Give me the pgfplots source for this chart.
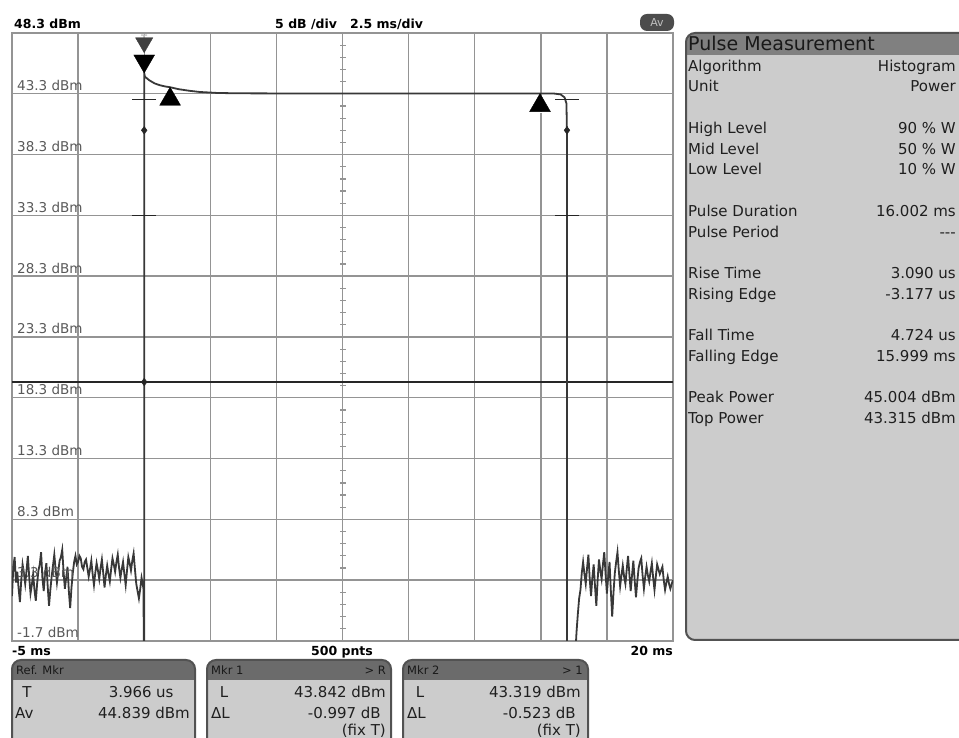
\documentclass[border=0pt]{standalone}
\usepackage{pgfplots}
\pgfplotsset{compat=1.18}
\usepackage{fontspec}
\setmainfont{DejaVu Sans}
\definecolor{gridc}{gray}{0.58}
\definecolor{trace}{gray}{0.22}
\definecolor{panel}{gray}{0.80}
\definecolor{hdr}{gray}{0.50}
\definecolor{bord}{gray}{0.32}
\newcommand\fA{\fontsize{15}{17}\selectfont}
\newcommand\fB{\fontsize{13.5}{15}\selectfont}
\newcommand\fC{\fontsize{12.5}{14}\selectfont}
\begin{document}
\begin{tikzpicture}[x=1pt,y=1pt]
\fill[white] (0,0) rectangle (959,738);
\begin{axis}[at={(12pt,97pt)}, anchor=south west, scale only axis,
  width=661pt, height=608pt,
  xmin=-5, xmax=20, ymin=-1.7, ymax=48.3,
  xtick={-5,-2.5,0,2.5,5,7.5,10,12.5,15,17.5,20},
  ytick={-1.7,3.3,8.3,13.3,18.3,23.3,28.3,33.3,38.3,43.3,48.3},
  xticklabels={}, yticklabels={}, major tick length=0pt,
  grid=major, grid style={gridc, line width=1.4pt},
  axis line style={gridc, line width=1.6pt}]
% centre graticule minor ticks
\addplot[only marks, mark=-, mark size=3pt, gridc, mark options={line width=1.2pt}] coordinates {
(7.5,-0.7)(7.5,0.3)(7.5,1.3)(7.5,2.3)(7.5,4.3)(7.5,5.3)(7.5,6.3)(7.5,7.3)
(7.5,9.3)(7.5,10.3)(7.5,11.3)(7.5,12.3)(7.5,14.3)(7.5,15.3)(7.5,16.3)(7.5,17.3)
(7.5,19.3)(7.5,20.3)(7.5,21.3)(7.5,22.3)(7.5,24.3)(7.5,25.3)(7.5,26.3)(7.5,27.3)
(7.5,29.3)(7.5,30.3)(7.5,31.3)(7.5,32.3)(7.5,34.3)(7.5,35.3)(7.5,36.3)(7.5,37.3)
(7.5,39.3)(7.5,40.3)(7.5,41.3)(7.5,42.3)(7.5,44.3)(7.5,45.3)(7.5,46.3)(7.5,47.3)};
% threshold line
\addplot[black!85, line width=1.6pt] coordinates {(-5,19.6) (20,19.6)};
% trace
\addplot[trace, line width=1.8pt] coordinates {
(-5.0,2.0)(-4.95,4.4)(-4.9,5.2)(-4.85,3.1)(-4.8,4.0)(-4.75,2.6)(-4.7,1.5)(-4.65,3.3)
(-4.6,4.6)(-4.55,3.9)(-4.5,3.0)(-4.45,4.1)(-4.4,5.3)(-4.35,3.6)(-4.3,2.2)(-4.25,2.9)
(-4.2,3.8)(-4.15,2.5)(-4.1,1.6)(-4.05,3.0)(-4.0,4.1)(-3.95,4.6)(-3.9,5.6)(-3.85,3.5)
(-3.8,2.4)(-3.75,3.9)(-3.7,4.7)(-3.65,2.8)(-3.6,1.2)(-3.55,2.5)(-3.5,3.6)(-3.45,4.5)
(-3.4,5.4)(-3.35,4.2)(-3.3,3.1)(-3.25,4.0)(-3.2,4.9)(-3.15,5.2)(-3.1,5.8)(-3.05,4.0)
(-3.0,2.6)(-2.95,3.5)(-2.9,4.4)(-2.85,2.4)(-2.8,1.0)(-2.75,2.7)(-2.7,3.9)(-2.65,4.8)
(-2.6,5.3)(-2.55,4.6)(-2.5,4.8)(-2.45,5.3)(-2.4,5.1)(-2.35,4.4)(-2.3,4.2)(-2.25,4.8)
(-2.2,5.0)(-2.15,4.3)(-2.1,3.6)(-2.05,4.2)(-2.0,4.9)(-1.95,3.8)(-1.9,2.9)(-1.85,3.9)
(-1.8,4.7)(-1.75,4.1)(-1.7,3.4)(-1.65,4.3)(-1.6,5.0)(-1.55,3.9)(-1.5,2.7)(-1.45,3.7)
(-1.4,4.5)(-1.35,3.8)(-1.3,3.2)(-1.25,4.2)(-1.2,5.1)(-1.15,4.6)(-1.1,4.0)(-1.05,4.8)
(-1.0,5.4)(-0.95,4.3)(-0.9,3.5)(-0.85,4.2)(-0.8,4.8)(-0.75,3.8)(-0.7,2.9)(-0.65,4.1)
(-0.6,5.2)(-0.55,4.7)(-0.5,4.1)(-0.45,4.9)(-0.4,5.5)(-0.35,4.2)(-0.3,3.0)(-0.25,2.4)
(-0.2,1.8)(-0.15,2.6)(-0.1,3.5)(-0.05,2.9)(-0.03,2.6)(0.0,-5)(0.0,45.0)
(0.03,44.7)(0.2,44.4)(0.4,44.15)(0.6,44.0)(0.8,43.9)(0.98,43.84)(1.3,43.68)
(1.7,43.55)(2.1,43.45)(2.75,43.37)(3.5,43.34)(5,43.33)(10,43.32)(15.5,43.32)
(15.75,43.25)(15.9,43.0)(15.97,42.5)(15.99,40)(15.99,-5)(16.2,-5)
(16.3,-3)(16.35,-1)(16.4,0.5)(16.45,1.8)(16.5,2.5)(16.55,3.9)(16.6,4.8)(16.65,3.8)
(16.7,3.0)(16.75,4.3)(16.8,5.4)(16.85,3.4)(16.9,2.0)(16.95,3.5)(17.0,4.6)(17.05,2.8)
(17.1,1.2)(17.15,3.3)(17.2,5.0)(17.25,4.1)(17.3,3.4)(17.35,4.6)(17.4,5.6)(17.45,3.8)
(17.5,2.2)(17.55,3.6)(17.6,4.8)(17.65,2.4)(17.7,0.3)(17.75,2.3)(17.8,3.9)(17.85,4.8)
(17.9,5.6)(17.95,4.1)(18.0,2.8)(18.05,3.7)(18.1,4.5)(18.15,3.6)(18.2,3.0)(18.25,4.2)
(18.3,5.3)(18.35,3.8)(18.4,2.4)(18.45,3.7)(18.5,4.9)(18.55,3.3)(18.6,1.9)(18.65,3.2)
(18.7,4.3)(18.75,4.8)(18.8,5.1)(18.85,3.7)(18.9,2.6)(18.95,3.6)(19.0,4.4)(19.05,3.7)
(19.1,3.2)(19.15,4.0)(19.2,4.7)(19.25,3.5)(19.3,2.5)(19.35,3.6)(19.4,4.6)(19.45,4.2)
(19.5,3.8)(19.55,4.1)(19.6,4.4)(19.65,3.3)(19.7,2.5)(19.75,3.1)(19.8,3.6)(19.85,3.0)
(19.9,2.6)(19.95,3.0)(20.0,3.3)};
% pulse level ticks and diamonds
\addplot[only marks, mark=-, mark size=12pt, black!85, mark options={line width=1.5pt}]
  coordinates {(0,42.85)(0,33.3)(15.99,42.85)(15.99,33.3)};
\addplot[only marks, mark=diamond*, mark size=3.8pt, black!85]
  coordinates {(0,40.3)(15.99,40.3)(0,19.6)};
% markers
\addplot[only marks, mark=triangle*, mark size=12pt, black, mark options={rotate=180}]
  coordinates {(0,46.0)};
\addplot[only marks, mark=triangle*, mark size=10pt, black!75, mark options={rotate=180}]
  coordinates {(0,47.5)};
\addplot[only marks, mark=triangle*, mark size=12pt, black]
  coordinates {(0.98,42.85)(14.97,42.33)};
\node[white, font=\fontsize{9}{10}\selectfont\bfseries] at (axis cs:0.98,42.5) {1};
\node[white, font=\fontsize{9}{10}\selectfont\bfseries] at (axis cs:14.97,41.98) {2};
\node[black!25, font=\fontsize{9}{10}\selectfont\bfseries] at (axis cs:0,47.85) {T};
\end{axis}
% level labels inside the plot
\foreach \k/\lab in {1/43.3,2/38.3,3/33.3,4/28.3,5/23.3,6/18.3,7/13.3,8/8.3,9/3.3,10/-1.7}{
  \node[anchor=base west, inner sep=0pt, text=black!65, font=\fB] at (17,{738-33-60.8*\k+3}) {\lab\ dBm};
}
% top labels
\node[anchor=base west, inner sep=0pt, font=\fC\bfseries] at (14,709) {48.3 dBm};
\node[anchor=base west, inner sep=0pt, font=\fC\bfseries] at (275,709) {5 dB /div};
\node[anchor=base west, inner sep=0pt, font=\fC\bfseries] at (350,709) {2.5 ms/div};
\fill[black!70, rounded corners=7] (640,707) rectangle (674,724);
\node[text=black!25, font=\fontsize{11}{12}\selectfont] at (657,715.5) {Av};
% bottom labels
\node[anchor=base west, inner sep=0pt, font=\fC\bfseries] at (12,82) {-5 ms};
\node[anchor=base, inner sep=0pt, font=\fC\bfseries] at (342,82) {500 pnts};
\node[anchor=base east, inner sep=0pt, font=\fC\bfseries] at (673,82) {20 ms};
% right panel (its frame runs past the right edge of the page)
\begin{scope}[overlay]
\begin{scope}
\clip[rounded corners=9] (686,98) rectangle (990,705);
\fill[panel] (686,98) rectangle (990,705);
\fill[hdr] (686,683) rectangle (990,705);
\end{scope}
\draw[bord, line width=2pt, rounded corners=9] (686,98) rectangle (990,705);
% bottom marker boxes (run past the lower edge)
\foreach \xa/\xb/\hleft/\hright in {12/195/Ref. Mkr/, 207/391/Mkr 1/> R, 403/588/Mkr 2/> 1}{
  \begin{scope}
  \clip[rounded corners=9] (\xa,-20) rectangle (\xb,78);
  \fill[panel] (\xa,-20) rectangle (\xb,78);
  \fill[black!58] (\xa,58) rectangle (\xb,78);
  \end{scope}
  \draw[bord, line width=2pt, rounded corners=9] (\xa,-20) rectangle (\xb,78);
  \node[anchor=base west, inner sep=0pt, font=\fontsize{11.5}{13}\selectfont, text=black!90] at (\xa+4,63) {\hleft};
  \node[anchor=base east, inner sep=0pt, font=\fontsize{11.5}{13}\selectfont, text=black!90] at (\xb-5,63) {\hright};
}
\end{scope}
\node[anchor=base west, inner sep=0pt, font=\fontsize{19}{21}\selectfont, text=black!90] at (688,687) {Pulse Measurement};
\foreach \yy/\lname/\lval in {67/Algorithm/Histogram, 87/Unit/Power,
  129/High Level/90 \% W, 150/Mid Level/50 \% W, 170/Low Level/10 \% W,
  212/Pulse Duration/16.002 ms, 233/Pulse Period/{-{}-{}-},
  274/Rise Time/3.090 us, 295/Rising Edge/-3.177 us,
  336/Fall Time/4.724 us, 357/Falling Edge/15.999 ms,
  398/Peak Power/45.004 dBm, 419/Top Power/43.315 dBm}{
  \node[anchor=base west, inner sep=0pt, font=\fA, text=black!88] at (688,{738-\yy-5}) {\lname};
  \node[anchor=base east, inner sep=0pt, font=\fA, text=black!88] at (956,{738-\yy-5}) {\lval};
}
\node[anchor=base, inner sep=0pt, font=\fA, text=black!88] at (27,40) {T};
\node[anchor=base west, inner sep=0pt, font=\fA, text=black!88] at (15,19) {Av};
\node[anchor=base east, inner sep=0pt, font=\fA, text=black!88] at (152,40) {3.966};
\node[anchor=base west, inner sep=0pt, font=\fA, text=black!88] at (156,40) {us};
\node[anchor=base east, inner sep=0pt, font=\fA, text=black!88] at (190,19) {44.839 dBm};
\node[anchor=base, inner sep=0pt, font=\fA, text=black!88] at (224,40) {L};
\node[anchor=base west, inner sep=0pt, font=\fA, text=black!88] at (211,19) {ΔL};
\node[anchor=base east, inner sep=0pt, font=\fA, text=black!88] at (386,40) {43.842 dBm};
\node[anchor=base east, inner sep=0pt, font=\fA, text=black!88] at (381,19) {-0.997 dB};
\node[anchor=base east, inner sep=0pt, font=\fA, text=black!88] at (386,2) {(fix T)};
\node[anchor=base, inner sep=0pt, font=\fA, text=black!88] at (420,40) {L};
\node[anchor=base west, inner sep=0pt, font=\fA, text=black!88] at (407,19) {ΔL};
\node[anchor=base east, inner sep=0pt, font=\fA, text=black!88] at (581,40) {43.319 dBm};
\node[anchor=base east, inner sep=0pt, font=\fA, text=black!88] at (576,19) {-0.523 dB};
\node[anchor=base east, inner sep=0pt, font=\fA, text=black!88] at (581,2) {(fix T)};
\end{tikzpicture}
\end{document}
